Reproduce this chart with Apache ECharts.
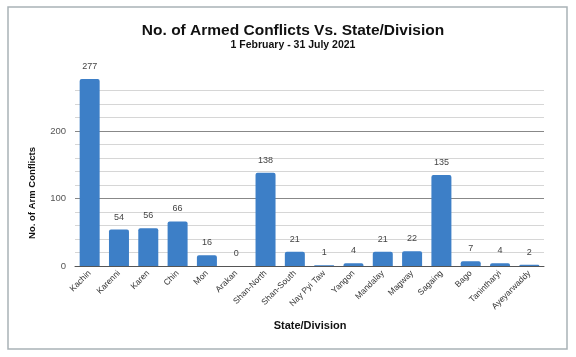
<!DOCTYPE html>
<html><head><meta charset="utf-8">
<script src="https://cdn.jsdelivr.net/npm/echarts@6/dist/echarts.min.js"></script>
<style>html,body{margin:0;padding:0;background:#fff}#c{width:576px;height:357px}</style>
</head><body><div id="c"></div>
<script>
const categories = ['Kachin','Karenni','Karen','Chin','Mon','Arakan','Shan-North','Shan-South','Nay Pyi Taw','Yangon','Mandalay','Magway','Sagaing','Bago','Tanintharyi','Ayeyarwaddy'];
const conflicts = [277,54,56,66,16,0,138,21,1,4,21,22,135,7,4,2];
const yTicks = [0,100,200];
const titleText = 'No. of Armed Conflicts Vs. State/Division';
const subtitleText = '1 February - 31 July 2021';
const xTitle = 'State/Division';
const yTitle = 'No. of Arm Conflicts';

const chart = echarts.init(document.getElementById('c'));
const gridColors = [];
for (let v = 0; v <= 280; v += 20) {
  if (v === 280) gridColors.push('rgba(0,0,0,0)');
  else if (v % 100 === 0) gridColors.push('#888888');
  else gridColors.push('#d6d6d6');
}
chart.setOption({
  animation: false,
  title: [
    {text: titleText, left: 288, top: 18, textAlign: 'center',
     textStyle: {fontFamily: 'Liberation Sans, Arial', fontWeight: 'bold', fontSize: 15.5, color: '#111'}},
    {text: subtitleText, left: 288, top: 35, textAlign: 'center',
     textStyle: {fontFamily: 'Liberation Sans, Arial', fontWeight: 'bold', fontSize: 10.5, color: '#111'}}
  ],
  graphic: [
    {type: 'rect', shape: {x: 8, y: 7, width: 559, height: 342},
     style: {fill: 'none', stroke: '#a9b2b6', lineWidth: 1.5}, silent: true, z: -1},
    {type: 'text', x: 310, y: 326, style: {text: xTitle, textAlign: 'center', textVerticalAlign: 'middle',
      font: 'bold 11px "Liberation Sans", Arial', fill: '#111'}},
    {type: 'text', x: 32, y: 193, rotation: Math.PI / 2, style: {text: yTitle, textAlign: 'center', textVerticalAlign: 'middle',
      font: 'bold 9.5px "Liberation Sans", Arial', fill: '#111'}}
  ],
  grid: {left: 75, right: 32, top: 77, bottom: 91},
  xAxis: {
    type: 'category', data: categories,
    axisLine: {lineStyle: {color: '#555'}}, axisTick: {show: false},
    axisLabel: {rotate: 45, interval: 0, fontSize: 8.5, color: '#333', margin: 6,
      fontFamily: 'Liberation Sans, Arial'}
  },
  yAxis: {
    type: 'value', min: 0, max: 280, interval: 20,
    axisLine: {show: false}, axisTick: {show: false},
    axisLabel: {color: '#555', fontSize: 9.5, margin: 9, fontFamily: 'Liberation Sans, Arial',
      formatter: v => yTicks.includes(v) ? String(v) : ''},
    splitLine: {lineStyle: {color: gridColors, width: 1}}
  },
  series: [{
    type: 'bar', data: conflicts, barWidth: 20,
    itemStyle: {color: '#3d7fc7', borderRadius: [2,2,0,0]},
    label: {show: true, position: 'top', distance: 8, color: '#444', fontSize: 9,
      fontFamily: 'Liberation Sans, Arial'}
  }]
});
</script></body></html>
